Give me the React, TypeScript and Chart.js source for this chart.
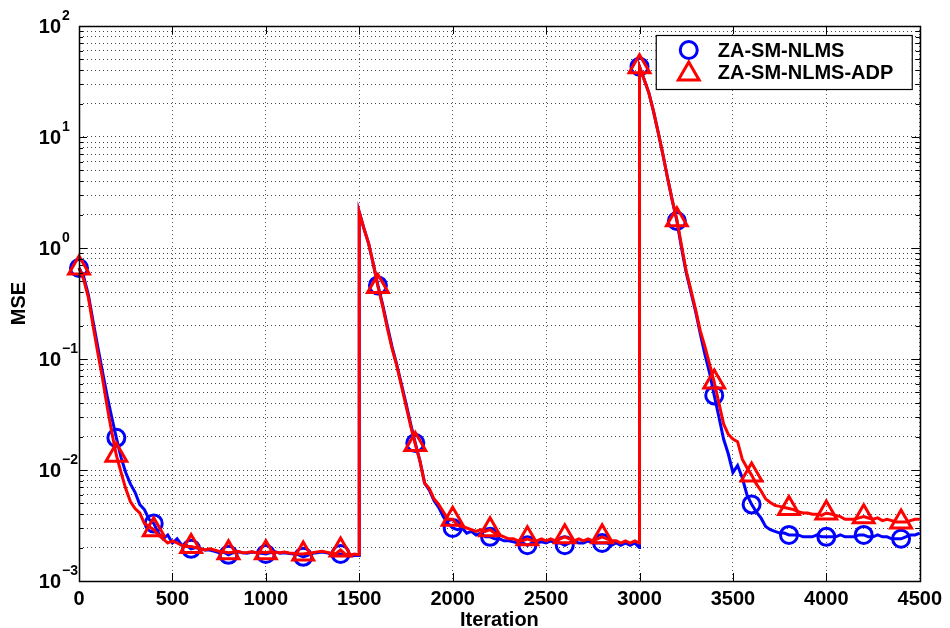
import React, { useEffect, useRef } from 'react';
import { Chart, registerables } from 'chart.js';

Chart.register(...registerables);

// ---------------- data ----------------
const ITERATIONS = [
  0, 25, 50, 75, 100, 125, 150, 175,
  200, 225, 250, 275, 300, 325, 350, 375,
  400, 425, 450, 475, 500, 525, 550, 575,
  600, 625, 650, 675, 700, 725, 750, 775,
  800, 825, 850, 875, 900, 925, 950, 975,
  1000, 1025, 1050, 1075, 1100, 1125, 1150, 1175,
  1200, 1225, 1250, 1275, 1300, 1325, 1350, 1375,
  1400, 1425, 1450, 1475, 1499,
  1500, 1525, 1550, 1575, 1600, 1625, 1650, 1675,
  1700, 1725, 1750, 1775, 1800, 1825, 1850, 1875,
  1900, 1925, 1950, 1975, 2000, 2025, 2050, 2075,
  2100, 2125, 2150, 2175, 2200, 2225, 2250, 2275,
  2300, 2325, 2350, 2375, 2400, 2425, 2450, 2475,
  2500, 2525, 2550, 2575, 2600, 2625, 2650, 2675,
  2700, 2725, 2750, 2775, 2800, 2825, 2850, 2875,
  2900, 2925, 2950, 2975, 2999,
  3000, 3025, 3050, 3075, 3100, 3125, 3150, 3175,
  3200, 3225, 3250, 3275, 3300, 3325, 3350, 3375,
  3400, 3425, 3450, 3475, 3500, 3525, 3550, 3575,
  3600, 3625, 3650, 3675, 3700, 3725, 3750, 3775,
  3800, 3825, 3850, 3875, 3900, 3925, 3950, 3975,
  4000, 4025, 4050, 4075, 4100, 4125, 4150, 4175,
  4200, 4225, 4250, 4275, 4300, 4325, 4350, 4375,
  4400, 4425, 4450, 4475, 4500,
];

const ZA_SM_NLMS = [
  0.66, 0.55, 0.38, 0.22, 0.13, 0.078, 0.047, 0.03,
  0.0195, 0.013, 0.0095, 0.0075, 0.0063, 0.0049, 0.0044, 0.0036,
  0.0033, 0.0027, 0.0024, 0.0026, 0.0022, 0.0024, 0.0021, 0.0021,
  0.00195, 0.002, 0.00195, 0.0019, 0.0019, 0.00185, 0.0018, 0.00182,
  0.00172, 0.0018, 0.00183, 0.0018, 0.00178, 0.00182, 0.0018, 0.00178,
  0.00175, 0.0018, 0.00183, 0.00178, 0.0018, 0.00177, 0.00175, 0.00172,
  0.00165, 0.0017, 0.00178, 0.0018, 0.00182, 0.0018, 0.00175, 0.00172,
  0.00175, 0.0017, 0.00168, 0.0017, 0.0017,
  2.1, 1.5, 1.1, 0.72, 0.46, 0.31, 0.2, 0.13,
  0.09, 0.06, 0.04, 0.026, 0.0175, 0.012, 0.0076, 0.0066,
  0.0053, 0.0046, 0.0038, 0.0033, 0.003, 0.0029, 0.003, 0.0027,
  0.0028, 0.0026, 0.0027, 0.0025, 0.0025, 0.0024, 0.0024, 0.0023,
  0.0023, 0.00225, 0.0022, 0.0022, 0.0021, 0.0022, 0.0022, 0.00225,
  0.0022, 0.0023, 0.0022, 0.0022, 0.0021, 0.0022, 0.0023, 0.0022,
  0.0022, 0.0023, 0.0022, 0.0022, 0.0022, 0.0022, 0.0021, 0.0022,
  0.0021, 0.0022, 0.0021, 0.0022, 0.002,
  43, 33, 25, 17, 11, 7, 4.3, 2.7,
  1.75, 1.0, 0.6, 0.4, 0.27, 0.17, 0.11, 0.075,
  0.047, 0.03, 0.019, 0.014, 0.0095, 0.011, 0.0085, 0.006,
  0.0049, 0.0042, 0.0037, 0.0031, 0.0029, 0.0028, 0.0027, 0.0027,
  0.0026, 0.0026, 0.0026, 0.0025, 0.0025, 0.0025, 0.0026, 0.0025,
  0.0025, 0.0025, 0.0025, 0.0026, 0.0025, 0.0025, 0.0025, 0.0026,
  0.0026, 0.0025, 0.0025, 0.0026, 0.0025, 0.0025, 0.0024, 0.0024,
  0.0024, 0.0025, 0.0026, 0.0026, 0.0027,
];

const ZA_SM_NLMS_ADP = [
  0.66, 0.52, 0.36, 0.2, 0.115, 0.068, 0.038, 0.022,
  0.0136, 0.0095, 0.0068, 0.0052, 0.0045, 0.0041, 0.0033, 0.0031,
  0.0029, 0.0026, 0.0024, 0.0022, 0.0023, 0.0022, 0.0021, 0.00205,
  0.00205, 0.002, 0.00195, 0.0019, 0.00195, 0.0019, 0.00185, 0.00183,
  0.0018, 0.00182, 0.00185, 0.0018, 0.00181, 0.00183, 0.0018, 0.00182,
  0.0018, 0.00183, 0.00182, 0.0018, 0.00182, 0.00179, 0.00178, 0.00176,
  0.00175, 0.00178, 0.0018, 0.00183, 0.00185, 0.00182, 0.00178, 0.00176,
  0.0019, 0.00175, 0.00172, 0.00175, 0.00172,
  2.1, 1.5, 1.1, 0.72, 0.45, 0.3, 0.19, 0.125,
  0.088, 0.058, 0.038, 0.025, 0.017, 0.012, 0.0076, 0.0068,
  0.0055, 0.0049, 0.0042, 0.0036, 0.0036, 0.0032, 0.0031, 0.003,
  0.0029, 0.0028, 0.0029, 0.0028, 0.0029, 0.0027, 0.0026, 0.0025,
  0.0024, 0.0024, 0.0023, 0.0023, 0.0024, 0.0023, 0.0023, 0.0024,
  0.0023, 0.0024, 0.0023, 0.0024, 0.0025, 0.0024, 0.0023, 0.0024,
  0.0023, 0.0024, 0.0023, 0.0024, 0.0025, 0.0024, 0.0023, 0.0023,
  0.0022, 0.0023, 0.0022, 0.0023, 0.0022,
  43, 33, 25, 17, 11, 7, 4.3, 2.7,
  1.8, 1.05, 0.62, 0.42, 0.28, 0.18, 0.13, 0.09,
  0.062, 0.04, 0.026, 0.021, 0.019, 0.018, 0.0125, 0.0105,
  0.009, 0.0075, 0.0065, 0.0055, 0.0051, 0.0048, 0.0047, 0.0046,
  0.0045, 0.0044, 0.0042, 0.0041, 0.0041, 0.004, 0.004, 0.0039,
  0.0041, 0.004, 0.0039, 0.0038, 0.0036, 0.0036, 0.0036, 0.0037,
  0.0038, 0.0037, 0.0036, 0.0037, 0.0035, 0.0036, 0.0035, 0.0034,
  0.0034, 0.0034, 0.0035, 0.0036, 0.0036,
];

const SERIES_LABELS = ['ZA-SM-NLMS', 'ZA-SM-NLMS-ADP'];
const X_TICKS = [0, 500, 1000, 1500, 2000, 2500, 3000, 3500, 4000, 4500];
const Y_DECADES = [1e-3, 1e-2, 1e-1, 1, 10, 100];
const Y_EXPONENTS = ['\u22123', '\u22122', '\u22121', '0', '1', '2'];
const Y_MINOR_MULTIPLIERS = [2, 3, 4, 5, 6, 7, 8, 9];
const MARKER_EVERY = 200;
const X_TITLE = 'Iteration';
const Y_TITLE = 'MSE';

// ---------------- styles ----------------
const FONT = "'Liberation Sans', Arial, Helvetica, sans-serif";
const BLUE = '#0000ff';
const RED = '#ff0000';

function buildYTicks() {
  const out: { value: number; major: boolean }[] = [];
  Y_DECADES.forEach((d, i) => {
    out.push({ value: d, major: true });
    if (i < Y_DECADES.length - 1) {
      Y_MINOR_MULTIPLIERS.forEach((m) => out.push({ value: +(d * m).toPrecision(6), major: false }));
    }
  });
  return out;
}

function drawMarker(ctx: CanvasRenderingContext2D, style: string, x: number, y: number, r: number, color: string) {
  ctx.save();
  ctx.strokeStyle = color;
  ctx.lineWidth = 3;
  ctx.beginPath();
  if (style === 'circle') {
    ctx.arc(x, y, r, 0, Math.PI * 2);
  } else {
    for (let k = 0; k < 3; k++) {
      const a = (k * 2 * Math.PI) / 3;
      const px = x + Math.sin(a) * r;
      const py = y - Math.cos(a) * r;
      if (k === 0) ctx.moveTo(px, py);
      else ctx.lineTo(px, py);
    }
    ctx.closePath();
  }
  ctx.stroke();
  ctx.restore();
}

const matlabAxesPlugin = {
  id: 'matlabAxes',
  afterDatasetsDraw(chart: any) {
    const { ctx, chartArea } = chart;
    const { left, right, top, bottom } = chartArea;
    const xs = chart.scales.x;
    const ys = chart.scales.y;
    ctx.save();
    ctx.strokeStyle = '#000';
    ctx.lineWidth = 1;
    ctx.beginPath();
    X_TICKS.forEach((v) => {
      const px = Math.round(xs.getPixelForValue(v)) + 0.5;
      ctx.moveTo(px, bottom);
      ctx.lineTo(px, bottom - 8);
      ctx.moveTo(px, top);
      ctx.lineTo(px, top + 8);
    });
    ys.ticks.forEach((t: any) => {
      const py = Math.round(ys.getPixelForValue(t.value)) + 0.5;
      const len = t.major ? 8 : 4;
      ctx.moveTo(left, py);
      ctx.lineTo(left + len, py);
      ctx.moveTo(right, py);
      ctx.lineTo(right - len, py);
    });
    ctx.stroke();
    ctx.lineWidth = 1.5;
    ctx.strokeRect(Math.round(left) + 0.5, Math.round(top) + 0.5, Math.round(right - left), Math.round(bottom - top));
    ctx.restore();
  },
  afterDraw(chart: any) {
    const { ctx, chartArea } = chart;
    const ys = chart.scales.y;
    ctx.save();
    ctx.fillStyle = '#000';
    Y_DECADES.forEach((d, i) => {
      const py = ys.getPixelForValue(d);
      ctx.font = `bold 20px ${FONT}`;
      ctx.textAlign = 'right';
      ctx.textBaseline = 'alphabetic';
      ctx.fillText('10', chartArea.left - 18, py + 7);
      ctx.font = `bold 14px ${FONT}`;
      ctx.textAlign = 'left';
      ctx.fillText(Y_EXPONENTS[i], chartArea.left - 17, py - 6);
    });

    // legend
    const boxRight = chartArea.right - 8;
    const boxLeft = boxRight - 256;
    const boxTop = chartArea.top + 9;
    const boxH = 54;
    ctx.fillStyle = '#fff';
    ctx.fillRect(boxLeft, boxTop, boxRight - boxLeft, boxH);
    ctx.strokeStyle = '#000';
    ctx.lineWidth = 1.2;
    ctx.strokeRect(boxLeft + 0.5, boxTop + 0.5, boxRight - boxLeft, boxH);
    chart.data.datasets.forEach((ds: any, i: number) => {
      const cy = boxTop + 15 + i * 22;
      const isCircle = ds.pointStyle === 'circle';
      drawMarker(ctx, ds.pointStyle, boxLeft + 33, cy + (isCircle ? 0 : 2), isCircle ? 8.5 : 12, ds.borderColor);
      ctx.fillStyle = '#000';
      ctx.font = `bold 20px ${FONT}`;
      ctx.textAlign = 'left';
      ctx.textBaseline = 'middle';
      ctx.fillText(ds.label, boxLeft + 62, cy + 1);
    });
    ctx.restore();
  },
};

function markerRadius(r: number) {
  return (c: any) => (ITERATIONS[c.dataIndex] % MARKER_EVERY === 0 ? r : 0);
}

export default function App() {
  const canvasRef = useRef<HTMLCanvasElement | null>(null);

  useEffect(() => {
    const canvas = canvasRef.current;
    if (!canvas) return;
    const blue = ITERATIONS.map((x, i) => ({ x, y: ZA_SM_NLMS[i] }));
    const red = ITERATIONS.map((x, i) => ({ x, y: ZA_SM_NLMS_ADP[i] }));
    const chart = new Chart(canvas, {
      type: 'line',
      data: {
        datasets: [
          {
            label: SERIES_LABELS[0],
            data: blue,
            order: 1,
            borderColor: BLUE,
            borderWidth: 3,
            pointStyle: 'circle',
            pointRadius: markerRadius(8.5),
            pointBorderWidth: 3,
            pointBorderColor: BLUE,
            pointBackgroundColor: 'rgba(0,0,0,0)',
            tension: 0,
            clip: false,
          } as any,
          {
            label: SERIES_LABELS[1],
            data: red,
            order: 0,
            borderColor: RED,
            borderWidth: 3,
            pointStyle: 'triangle',
            pointRadius: markerRadius(12),
            pointBorderWidth: 3,
            pointBorderColor: RED,
            pointBackgroundColor: 'rgba(0,0,0,0)',
            tension: 0,
            clip: false,
          } as any,
        ],
      },
      options: {
        responsive: false,
        animation: false,
        devicePixelRatio: 1,
        events: [],
        layout: { padding: { top: 26, right: 25, left: 0, bottom: 0 } },
        plugins: {
          legend: { display: false },
          tooltip: { enabled: false },
          title: { display: false },
        },
        scales: {
          x: {
            type: 'linear',
            min: 0,
            max: 4500,
            afterBuildTicks: (axis: any) => {
              axis.ticks = X_TICKS.map((v) => ({ value: v }));
            },
            afterFit: (axis: any) => {
              axis.height = 47;
            },
            ticks: {
              callback: (v: any) => String(v),
              color: '#000',
              font: { family: FONT, size: 20, weight: 'bold', lineHeight: 1 },
              padding: 8,
              maxRotation: 0,
              autoSkip: false,
            },
            grid: { color: '#555', lineWidth: 1, drawTicks: false },
            border: { display: false, dash: [1, 3] },
            title: {
              display: true,
              text: X_TITLE,
              color: '#000',
              font: { family: FONT, size: 20, weight: 'bold', lineHeight: 1 },
              padding: { top: 0, bottom: -2 },
            },
          },
          y: {
            type: 'logarithmic',
            min: 1e-3,
            max: 1e2,
            afterBuildTicks: (axis: any) => {
              axis.ticks = buildYTicks();
            },
            afterFit: (axis: any) => {
              axis.width = 79;
            },
            ticks: { display: false, autoSkip: false },
            grid: { color: '#444', lineWidth: 1, drawTicks: false },
            border: { display: false, dash: [1, 3] },
            title: {
              display: true,
              text: Y_TITLE,
              color: '#000',
              font: { family: FONT, size: 20, weight: 'bold', lineHeight: 1 },
              padding: { top: 9, bottom: 0 },
            },
          },
        },
      } as any,
      plugins: [matlabAxesPlugin],
    });
    return () => chart.destroy();
  }, []);

  return (
    <div style={{ position: 'fixed', left: 0, top: 0, width: 950, height: 628, background: '#fff' }}>
      <canvas ref={canvasRef} width={950} height={628} style={{ display: 'block' }} />
    </div>
  );
}
